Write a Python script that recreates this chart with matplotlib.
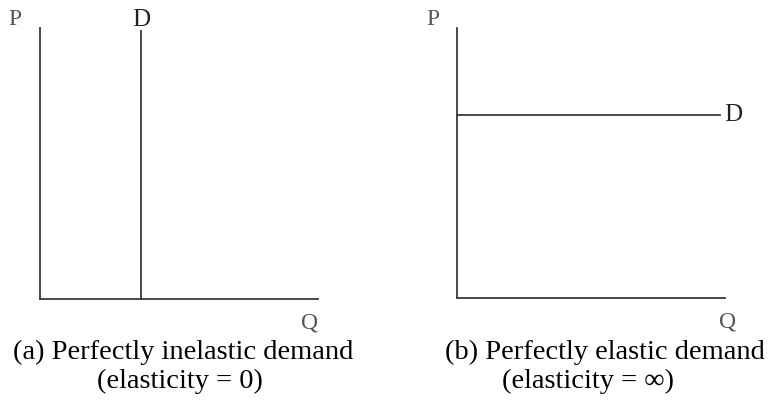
"""Perfectly inelastic vs perfectly elastic demand — two-panel sketch."""
import matplotlib.pyplot as plt

# axis ranges (Q and P in arbitrary units)
q_max = 10.0
p_max = 10.0

# panel (a): vertical demand at a fixed quantity
inelastic_q = 3.63
inelastic_p = [0.0, 9.9]

# panel (b): horizontal demand at a fixed price
elastic_p = 6.78
elastic_q = [0.0, 9.8]

captions = [
    ["(a) Perfectly inelastic demand", "(elasticity = 0)"],
    ["(b) Perfectly elastic demand", "(elasticity = \u221e)"],
]

LINE = "#3a3a3a"
LABEL = "#555555"
plt.rcParams["font.family"] = ["Liberation Serif", "DejaVu Serif"]

fig = plt.figure(figsize=(7.84, 4.15), dpi=100)
W, H = 784, 415


def make_axes(x0, x1, y_top, y_bot):
    ax = fig.add_axes([x0 / W, (H - y_bot) / H, (x1 - x0) / W, (y_bot - y_top) / H])
    ax.set_xlim(0, q_max)
    ax.set_ylim(0, p_max)
    for side in ("top", "right"):
        ax.spines[side].set_visible(False)
    for side in ("left", "bottom"):
        ax.spines[side].set_color(LINE)
        ax.spines[side].set_linewidth(1.3)
    ax.set_xticks([])
    ax.set_yticks([])
    ax.patch.set_alpha(0)
    return ax


# (a)
ax1 = make_axes(40, 318, 28, 299)
ax1.plot([inelastic_q, inelastic_q], inelastic_p, color=LINE, lw=1.3, clip_on=False)
ax1.text(-0.9, 10.3, "P", fontsize=17, color=LABEL, ha="center", va="center")
ax1.text(inelastic_q, 10.3, "D", fontsize=18, color="#222222", ha="center", va="center")
ax1.text(9.7, -0.9, "Q", fontsize=17, color=LABEL, ha="center", va="center")
fig.text(183 / W, 1 - 352 / H, captions[0][0], fontsize=20.5, ha="center", va="center")
fig.text(180 / W, 1 - 381 / H, captions[0][1], fontsize=20.5, ha="center", va="center")

# (b)
ax2 = make_axes(457, 725, 28, 298)
ax2.plot(elastic_q, [elastic_p, elastic_p], color=LINE, lw=1.3, clip_on=False)
ax2.text(-0.9, 10.3, "P", fontsize=17, color=LABEL, ha="center", va="center")
ax2.text(10.3, elastic_p, "D", fontsize=18, color="#222222", ha="center", va="center")
ax2.text(10.1, -0.9, "Q", fontsize=17, color=LABEL, ha="center", va="center")
fig.text(605 / W, 1 - 352 / H, captions[1][0], fontsize=20.5, ha="center", va="center")
fig.text(588 / W, 1 - 381 / H, captions[1][1], fontsize=20.5, ha="center", va="center")

fig.savefig("out.png", dpi=100)
plt.close(fig)
